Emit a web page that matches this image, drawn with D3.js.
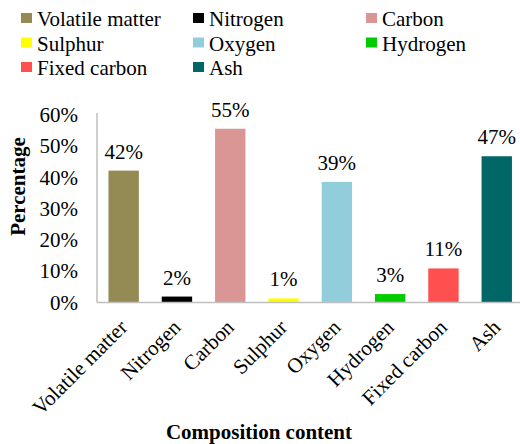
<!DOCTYPE html>
<html>
<head>
<meta charset="utf-8">
<script src="https://cdn.jsdelivr.net/npm/d3@7"></script>
<style>
  html, body { margin: 0; padding: 0; background: #fff; }
  svg { display: block; }
</style>
</head>
<body>
<svg id="chart" width="520" height="444" font-family="Liberation Serif, Times New Roman, serif"></svg>
<script>
const categories = ["Volatile matter", "Nitrogen", "Carbon", "Sulphur", "Oxygen", "Hydrogen", "Fixed carbon", "Ash"];
const values = [42.2, 1.9, 55.6, 1.3, 38.6, 2.7, 10.9, 46.8];
const labels = ["42%", "2%", "55%", "1%", "39%", "3%", "11%", "47%"];
const colors = ["#948A54", "#000000", "#DA9694", "#FFFF00", "#92CDDC", "#00CC00", "#FF5050", "#006666"];
const yTicks = [0, 10, 20, 30, 40, 50, 60];

(function () {
const FONT = "Liberation Serif";
const svg = d3.select("#chart");
const mLeft = 97, mRight = 523.4, mTop = 115, mBottom = 302.5;

const x = d3.scaleBand().domain(categories).range([mLeft, mRight]).paddingInner(0.43).paddingOuter(0.215);
const y = d3.scaleLinear().domain([0, 60]).range([mBottom, mTop]);

// Bars
svg.append("g").selectAll("rect").data(categories).join("rect")
  .attr("x", d => x(d))
  .attr("width", x.bandwidth())
  .attr("y", (d, i) => y(values[i]))
  .attr("height", (d, i) => y(0) - y(values[i]))
  .attr("fill", (d, i) => colors[i]);

// Data labels
svg.append("g").selectAll("text").data(categories).join("text")
  .attr("x", d => x(d) + x.bandwidth() / 2)
  .attr("y", (d, i) => y(values[i]) - 12)
  .attr("text-anchor", "middle")
  .attr("font-family", FONT)
  .attr("font-size", 21)
  .attr("fill", "#000")
  .text((d, i) => labels[i]);

// Y axis
const yAxis = d3.axisLeft(y).tickValues(yTicks).tickSize(0).tickPadding(19).tickFormat(d => d + "%");
const gy = svg.append("g").attr("transform", `translate(${mLeft},0)`).call(yAxis);
gy.attr("font-family", FONT);
gy.select(".domain").attr("stroke", "#BFBFBF").attr("stroke-width", 1.5).attr("d", `M0,${mTop - 2}V${mBottom}`);
gy.selectAll("text").attr("font-size", 21).attr("font-family", FONT).attr("fill", "#000");

// X axis
const xAxis = d3.axisBottom(x).tickSize(0).tickPadding(0);
const gx = svg.append("g").attr("transform", `translate(0,${mBottom})`).call(xAxis);
gx.attr("font-family", FONT);
gx.select(".domain").attr("stroke", "#BFBFBF").attr("stroke-width", 1.5).attr("d", `M${mLeft},0H${mRight}`);
gx.selectAll("text")
  .attr("font-size", 21).attr("font-family", FONT).attr("fill", "#000")
  .attr("text-anchor", "end")
  .attr("dy", null)
  .attr("y", 0)
  .attr("transform", "translate(5,26) rotate(-45)");

// Axis titles
svg.append("text")
  .attr("x", 259).attr("y", 439)
  .attr("text-anchor", "middle")
  .attr("font-family", FONT)
  .attr("font-size", 21).attr("font-weight", "bold")
  .text("Composition content");

svg.append("text")
  .attr("transform", "translate(25,186.5) rotate(-90)")
  .attr("text-anchor", "middle")
  .attr("font-family", FONT)
  .attr("font-size", 21).attr("font-weight", "bold")
  .text("Percentage");

// Legend
const legendCols = [21, 193, 366];
const legendRows = [26, 50.5, 75];
const lg = svg.append("g").selectAll("g").data(categories).join("g")
  .attr("transform", (d, i) => `translate(${legendCols[i % 3]},${legendRows[Math.floor(i / 3)]})`);
lg.append("rect").attr("x", 0).attr("y", -13).attr("width", 11).attr("height", 10)
  .attr("fill", (d, i) => colors[i]);
lg.append("text").attr("x", 16).attr("y", 0)
  .attr("font-family", FONT).attr("font-size", 21).attr("fill", "#000")
  .text(d => d);
})();
</script>
</body>
</html>
